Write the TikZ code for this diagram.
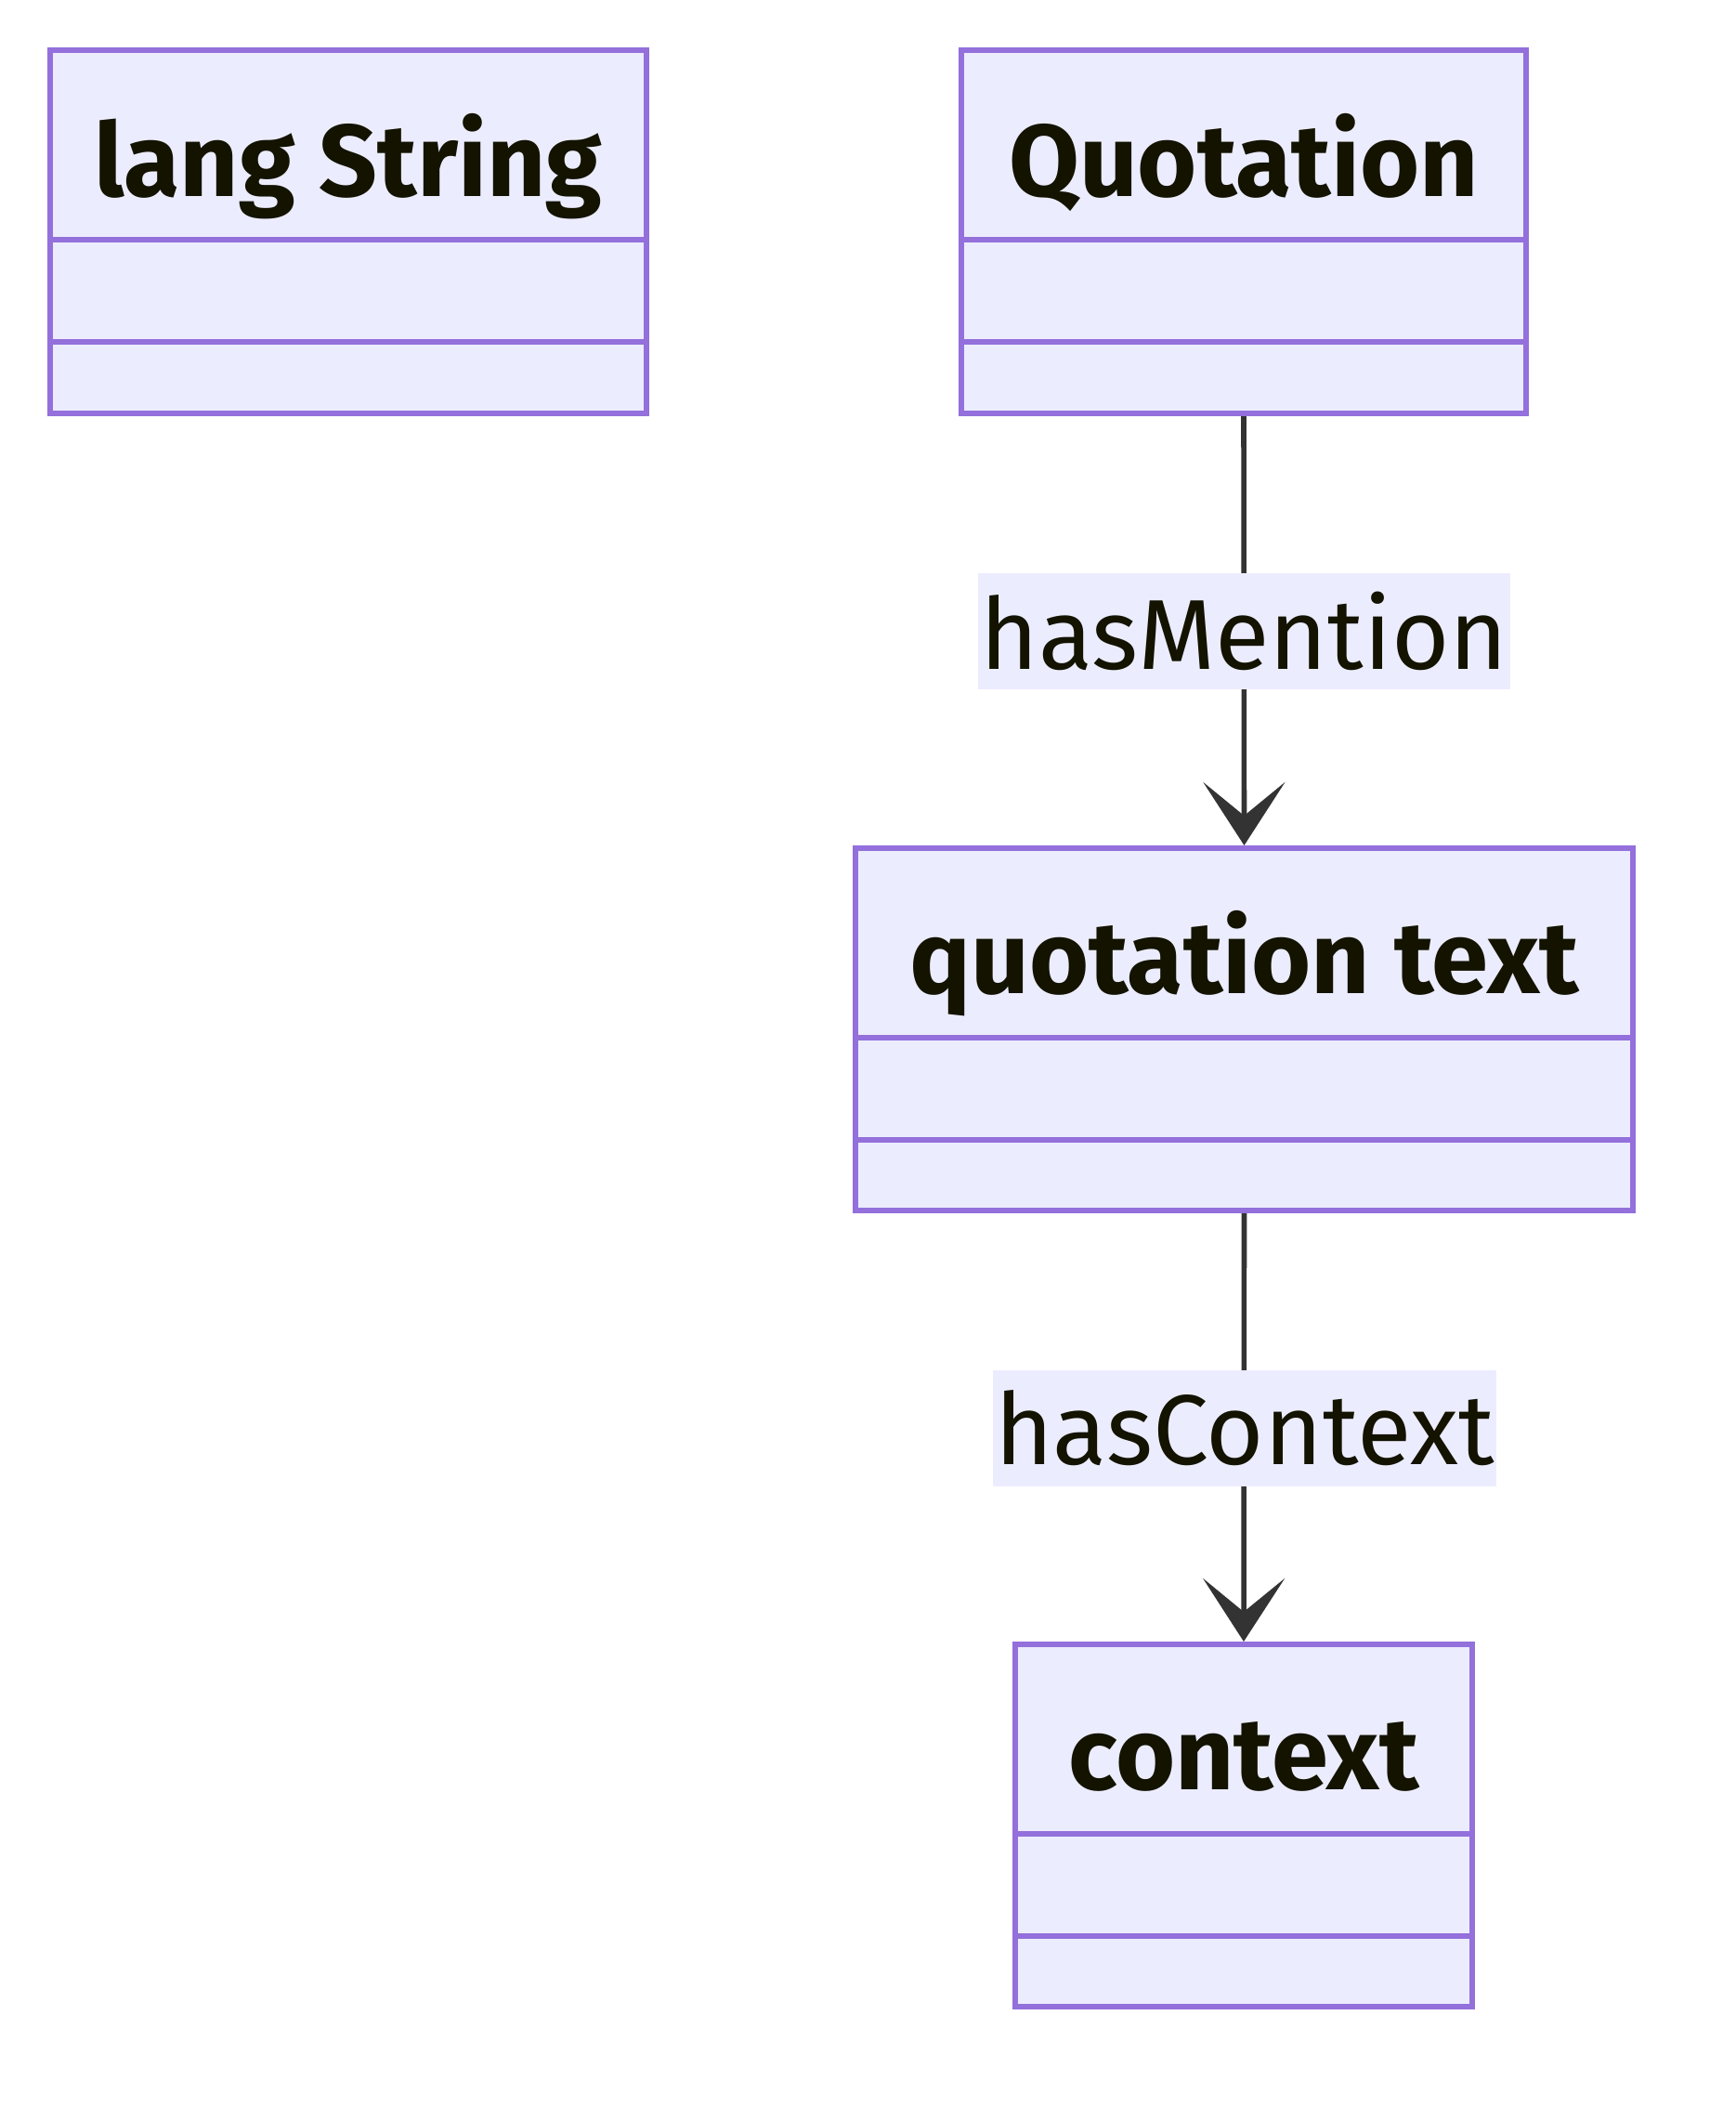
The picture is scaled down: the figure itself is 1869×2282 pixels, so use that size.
\documentclass[tikz,border=0pt]{standalone}
\usepackage{fontspec}
\setmainfont{Fira Sans}
\usetikzlibrary{arrows.meta}
\definecolor{boxfill}{HTML}{ECECFF}
\definecolor{boxline}{HTML}{9370DB}
\definecolor{conn}{HTML}{333333}
\definecolor{txt}{HTML}{131300}
\tikzset{
  classbox/.style={draw=boxline, fill=boxfill, line width=3pt, rectangle, inner sep=0pt},
  sepline/.style={draw=boxline, line width=3pt},
  title/.style={text=txt, font=\fontsize{55}{62}\selectfont\bfseries, inner sep=0pt, anchor=base},
  edgelabel/.style={fill=boxfill, text=txt, font=\fontsize{53.5}{60}\selectfont, inner xsep=1pt, minimum height=62.5pt, anchor=center},
  conn/.style={draw=conn, line width=2.8pt, -{Stealth[length=34pt, width=44pt, inset=18pt]}},
}
\begin{document}
\begin{tikzpicture}[x=0.5pt, y=-0.5pt]
\useasboundingbox (0,0) rectangle (1869,2282);
% lang String
\node[classbox, minimum width=321pt, minimum height=195.5pt] (ls) at (375,249.5) {};
\draw[sepline] ([yshift=-103.5pt]ls.north west) -- ([yshift=-103.5pt]ls.north east);
\draw[sepline] ([yshift=-158.5pt]ls.north west) -- ([yshift=-158.5pt]ls.north east);
\node[title] (lst) at (375,211) {lang String};
% Quotation
\node[classbox, minimum width=304pt, minimum height=195.5pt] (q) at (1339,249.5) {};
\draw[sepline] ([yshift=-103.5pt]q.north west) -- ([yshift=-103.5pt]q.north east);
\draw[sepline] ([yshift=-158.5pt]q.north west) -- ([yshift=-158.5pt]q.north east);
\node[title] (qt) at (1339,211) {Quotation};
% quotation text
\node[classbox, minimum width=418.5pt, minimum height=195pt] (qx) at (1339.5,1108) {};
\draw[sepline] ([yshift=-103.5pt]qx.north west) -- ([yshift=-103.5pt]qx.north east);
\draw[sepline] ([yshift=-158.5pt]qx.north west) -- ([yshift=-158.5pt]qx.north east);
\node[title] (qxt) at (1339.5,1069) {quotation text};
% context
\node[classbox, minimum width=246pt, minimum height=195pt] (ctx) at (1339,1965) {};
\draw[sepline] ([yshift=-103.5pt]ctx.north west) -- ([yshift=-103.5pt]ctx.north east);
\draw[sepline] ([yshift=-158.5pt]ctx.north west) -- ([yshift=-158.5pt]ctx.north east);
\node[title] (ctxt) at (1339,1926) {context};
% connectors
\draw[conn] (q.south) -- (qx.north);
\draw[conn] (qx.south) -- (ctx.north);
\node[edgelabel] (l1) at (1339.5,679.5) {hasMention};
\node[edgelabel] (l2) at (1340,1537.5) {hasContext};
\end{tikzpicture}
\end{document}
